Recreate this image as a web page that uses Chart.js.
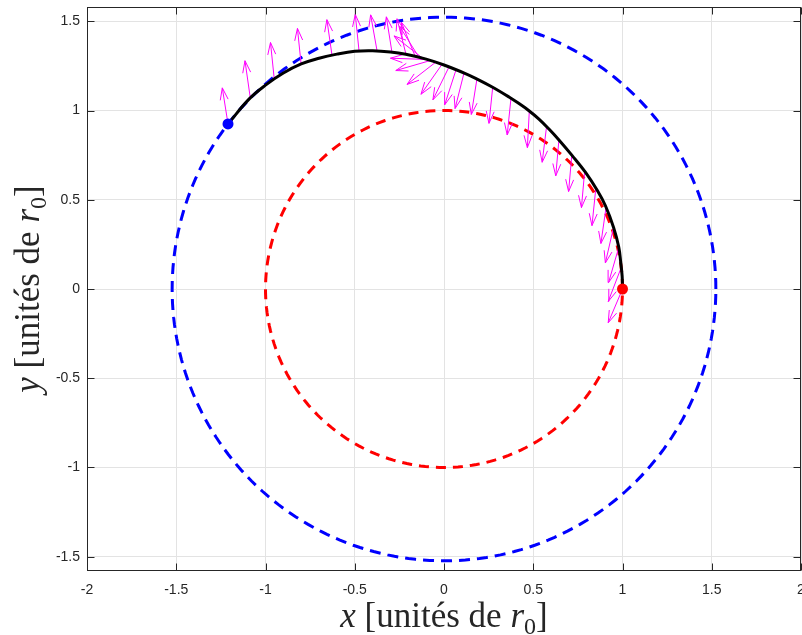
<!DOCTYPE html>
<html>
<head>
<meta charset="utf-8">
<script src="https://cdn.jsdelivr.net/npm/chart.js@4"></script>
<style>
  body { margin: 0; background: #fff; }
  #wrap { width: 802px; height: 635px; }
</style>
</head>
<body>
<div id="wrap"><canvas id="chart" width="802" height="635"></canvas></div>
<script>
// transfer trajectory, units of r0 (from the inner orbit to the outer one)
const trajX = [1.000, 0.998, 0.990, 0.979, 0.950, 0.905, 0.860, 0.793, 0.716, 0.644, 0.588, 0.532, 0.476, 0.420, 0.364, 0.270, 0.180, 0.120, 0.000, -0.100, -0.214, -0.300, -0.400, -0.500, -0.600, -0.700, -0.800, -0.900, -1.000, -1.091, -1.210];
const trajY = [0.000, 0.072, 0.150, 0.235, 0.345, 0.465, 0.550, 0.653, 0.750, 0.835, 0.896, 0.952, 0.999, 1.039, 1.076, 1.132, 1.179, 1.207, 1.255, 1.288, 1.315, 1.328, 1.335, 1.332, 1.316, 1.293, 1.261, 1.210, 1.142, 1.065, 0.925];

// orbits
const orbitRadii = [1, 1.523];
const startPoint = [1, 0];
const endPoint = [-1.21, 0.925];

// thrust arrows (quiver): base points and components
const arrowX = [-1.210, -1.086, -0.951, -0.800, -0.627, -0.476, -0.375, -0.291, -0.213, -0.162, -0.140, -0.118, -0.095, -0.073, -0.045, -0.011, 0.028, 0.067, 0.112, 0.185, 0.273, 0.375, 0.478, 0.575, 0.644, 0.716, 0.788, 0.850, 0.908, 0.950, 0.979, 0.993, 1.000];
const arrowY = [0.925, 1.076, 1.177, 1.256, 1.306, 1.334, 1.334, 1.323, 1.315, 1.305, 1.298, 1.292, 1.286, 1.281, 1.272, 1.259, 1.244, 1.227, 1.210, 1.180, 1.132, 1.067, 0.997, 0.913, 0.838, 0.750, 0.660, 0.559, 0.458, 0.346, 0.233, 0.121, 0.000];
const arrowU = [-0.032, -0.029, -0.021, -0.021, -0.029, -0.021, -0.036, -0.032, -0.050, -0.077, -0.109, -0.162, -0.205, -0.197, -0.162, -0.118, -0.090, -0.063, -0.050, -0.032, -0.021, -0.021, -0.011, -0.025, -0.018, -0.018, -0.018, -0.021, -0.029, -0.046, -0.057, -0.073, -0.080];
const arrowV = [0.202, 0.203, 0.204, 0.204, 0.203, 0.204, 0.202, 0.202, 0.199, 0.190, 0.174, 0.126, 0.007, -0.057, -0.126, -0.168, -0.184, -0.195, -0.199, -0.202, -0.204, -0.204, -0.205, -0.203, -0.204, -0.204, -0.204, -0.204, -0.203, -0.200, -0.197, -0.191, -0.189];

const xTicks = [-2, -1.5, -1, -0.5, 0, 0.5, 1, 1.5, 2];
const yTicks = [-1.5, -1, -0.5, 0, 0.5, 1, 1.5];

const axisColor = '#262626';

function circlePoints(r) {
  const pts = [];
  for (let k = 0; k <= 240; k++) {
    const t = 2 * Math.PI * k / 240;
    pts.push({x: r * Math.cos(t), y: r * Math.sin(t)});
  }
  return pts;
}

// quiver segments, arrow heads as in matlab (alpha = beta = 0.33)
const quiverData = [];
const alpha = 0.33, beta = 0.33;
arrowX.forEach((x0, i) => {
  const y0 = arrowY[i], u = arrowU[i], v = arrowV[i];
  const tx = x0 + u, ty = y0 + v;
  quiverData.push(
    {x: x0, y: y0}, {x: tx, y: ty}, {x: NaN, y: NaN},
    {x: tx - alpha * (u + beta * v), y: ty - alpha * (v - beta * u)},
    {x: tx, y: ty},
    {x: tx - alpha * (u - beta * v), y: ty - alpha * (v + beta * u)},
    {x: NaN, y: NaN}
  );
});

const trajData = trajX.map((x, i) => ({x, y: trajY[i]}));

// box + inward ticks
const boxPlugin = {
  id: 'box',
  afterDraw(chart) {
    const {ctx, chartArea: a, scales} = chart;
    const L = Math.round(a.left) + 0.5, R = Math.round(a.right) - 0.5;
    const T = Math.round(a.top) + 0.5, B = Math.round(a.bottom) - 0.5;
    ctx.save();
    ctx.strokeStyle = axisColor;
    ctx.lineWidth = 1;
    ctx.strokeRect(L, T, R - L, B - T);
    ctx.beginPath();
    xTicks.forEach(v => {
      const px = Math.round(scales.x.getPixelForValue(v)) + 0.5;
      ctx.moveTo(px, B); ctx.lineTo(px, B - 7);
      ctx.moveTo(px, T); ctx.lineTo(px, T + 7);
    });
    yTicks.forEach(v => {
      const py = Math.round(scales.y.getPixelForValue(v)) + 0.5;
      ctx.moveTo(L, py); ctx.lineTo(L + 7, py);
      ctx.moveTo(R, py); ctx.lineTo(R - 7, py);
    });
    ctx.stroke();
    ctx.restore();
  }
};

// latex-like axis titles
const serif = '"Liberation Serif", "Times New Roman", serif';
function labelParts(v) {
  return [
    {text: v, font: 'italic 35px ' + serif},
    {text: ' [unités de ', font: '35px ' + serif},
    {text: 'r', font: 'italic 35px ' + serif},
    {text: '0', font: '24px ' + serif, dy: 7},
    {text: ']', font: '35px ' + serif}
  ];
}
function drawParts(ctx, parts, cx, cy, rot) {
  ctx.save();
  ctx.translate(cx, cy);
  if (rot) ctx.rotate(-Math.PI / 2);
  ctx.fillStyle = axisColor;
  ctx.textBaseline = 'alphabetic';
  ctx.textAlign = 'left';
  let total = 0;
  parts.forEach(p => { ctx.font = p.font; p.w = ctx.measureText(p.text).width; total += p.w; });
  let pos = -total / 2;
  parts.forEach(p => { ctx.font = p.font; ctx.fillText(p.text, pos, p.dy || 0); pos += p.w; });
  ctx.restore();
}
const titlePlugin = {
  id: 'titles',
  afterDraw(chart) {
    const {ctx, chartArea: a} = chart;
    drawParts(ctx, labelParts('x'), (a.left + a.right) / 2, 627, false);
    drawParts(ctx, labelParts('y'), 39, (a.top + a.bottom) / 2, true);
  }
};

function noPad(s) {
  s.paddingLeft = 0; s.paddingRight = 0; s.paddingTop = 0; s.paddingBottom = 0;
}

new Chart(document.getElementById('chart'), {
  type: 'scatter',
  data: {
    datasets: [
      {data: [{x: startPoint[0], y: startPoint[1]}], pointRadius: 5.5, pointBackgroundColor: '#ff0000', pointBorderWidth: 0, showLine: false},
      {data: [{x: endPoint[0], y: endPoint[1]}], pointRadius: 5.5, pointBackgroundColor: '#0000ff', pointBorderWidth: 0, showLine: false},
      {data: trajData, showLine: true, borderColor: '#000000', borderWidth: 3, pointRadius: 0, tension: 0.4},
      {data: quiverData, showLine: true, borderColor: '#ff00ff', borderWidth: 1, pointRadius: 0, spanGaps: false},
      {data: circlePoints(orbitRadii[0]), showLine: true, borderColor: '#ff0000', borderWidth: 3, borderDash: [10, 7], pointRadius: 0},
      {data: circlePoints(orbitRadii[1]), showLine: true, borderColor: '#0000ff', borderWidth: 3, borderDash: [11, 7], pointRadius: 0}
    ]
  },
  options: {
    responsive: false,
    animation: false,
    events: [],
    layout: {autoPadding: false, padding: {top: 7, right: 1, left: 0, bottom: 0}},
    plugins: {legend: {display: false}, tooltip: {enabled: false}},
    scales: {
      x: {
        min: -2, max: 2,
        afterBuildTicks: s => { s.ticks = xTicks.map(v => ({value: v})); },
        afterFit: s => { s.height = 64; noPad(s); },
        grid: {color: '#e3e3e3', drawTicks: false},
        border: {display: false},
        ticks: {padding: 11, color: axisColor, font: {family: '"Liberation Sans", Arial, sans-serif', size: 14}, maxRotation: 0, autoSkip: false, callback: v => String(v)}
      },
      y: {
        min: -1.58, max: 1.58,
        afterBuildTicks: s => { s.ticks = yTicks.map(v => ({value: v})); },
        afterFit: s => { s.width = 87; noPad(s); },
        grid: {color: '#e3e3e3', drawTicks: false},
        border: {display: false},
        ticks: {padding: 7, color: axisColor, font: {family: '"Liberation Sans", Arial, sans-serif', size: 14}, autoSkip: false, callback: v => String(v)}
      }
    }
  },
  plugins: [boxPlugin, titlePlugin]
});
</script>
</body>
</html>
